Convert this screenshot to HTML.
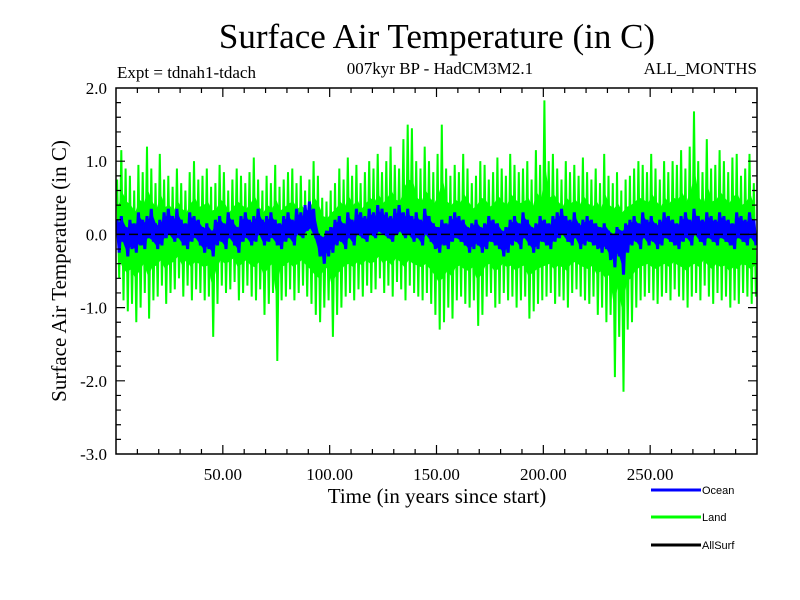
<!DOCTYPE html>
<html><head><meta charset="utf-8"><style>
body{margin:0;background:#fff}
svg{display:block}
text{font-family:"Liberation Serif",serif;fill:#000}
</style></head><body>
<svg id="c" width="800" height="600">
<text x="437" y="48" font-size="35" text-anchor="middle">Surface Air Temperature (in C)</text>
<text x="117" y="78" font-size="17">Expt = tdnah1-tdach</text>
<text x="440" y="74" font-size="17" text-anchor="middle">007kyr BP - HadCM3M2.1</text>
<text x="757" y="74" font-size="17" text-anchor="end">ALL_MONTHS</text>
<text x="437" y="503" font-size="21" text-anchor="middle">Time (in years since start)</text>
<text transform="translate(66,271) rotate(-90)" font-size="21" text-anchor="middle">Surface Air Temperature (in C)</text>
<g id="plot"></g>
<g>
<line x1="651" y1="490" x2="701" y2="490" stroke="#0000ff" stroke-width="3"/>
<text x="702" y="494" font-size="11" style="font-family:'Liberation Sans',sans-serif">Ocean</text>
<line x1="651" y1="517" x2="701" y2="517" stroke="#00ff00" stroke-width="3"/>
<text x="702" y="521" font-size="11" style="font-family:'Liberation Sans',sans-serif">Land</text>
<line x1="651" y1="545" x2="701" y2="545" stroke="#000" stroke-width="3"/>
<text x="702" y="549" font-size="11" style="font-family:'Liberation Sans',sans-serif">AllSurf</text>
</g>
</svg>
<script>
const xTicks=[50,100,150,200,250];
const xTickLabels=["50.00","100.00","150.00","200.00","250.00"];
const yTicks=[2,1,0,-1,-2,-3];
const yTickLabels=["2.0","1.0","0.0","-1.0","-2.0","-3.0"];
const binYears=2;
const landHi=[0.75,1.15,0.9,0.8,0.6,0.95,0.85,1.2,0.9,0.7,1.1,0.75,0.8,0.65,0.9,0.7,0.6,0.85,1.0,0.75,0.8,0.9,0.65,0.7,0.95,0.85,0.6,0.75,0.9,0.8,0.7,0.85,1.05,0.75,0.6,0.8,0.7,0.95,0.65,0.75,0.85,0.9,0.7,0.8,0.6,0.75,1.0,0.8,0.5,0.45,0.6,0.7,0.9,0.75,1.05,0.8,0.95,0.7,0.85,1.0,0.9,1.1,0.85,1.0,1.2,0.95,0.9,1.3,1.5,1.45,1.0,0.9,1.2,1.0,0.85,1.1,1.5,0.9,0.8,0.95,0.85,1.1,0.9,0.7,0.8,1.0,0.95,0.75,0.85,1.05,0.9,0.8,1.1,0.95,0.85,0.9,1.0,0.75,1.15,0.95,1.83,1.0,1.1,0.9,0.75,1.0,0.85,0.95,0.8,1.05,0.85,0.75,0.9,0.7,1.1,0.8,0.7,0.85,0.6,0.75,0.8,0.9,1.0,0.95,0.85,1.1,0.9,0.75,1.0,0.85,1.0,0.95,1.15,0.9,1.2,1.68,1.0,0.85,1.3,0.9,0.95,1.15,1.0,0.85,1.05,1.1,0.8,0.9,1.1,0.7];
const landLo=[-0.6,-0.9,-1.05,-0.95,-1.2,-1.0,-0.8,-1.15,-0.9,-0.85,-0.7,-0.95,-0.8,-0.75,-0.6,-0.85,-0.7,-0.9,-0.75,-0.8,-0.9,-0.85,-1.4,-0.95,-0.7,-0.8,-0.75,-0.65,-0.9,-0.8,-0.7,-0.85,-0.9,-0.75,-1.1,-0.95,-0.8,-1.73,-0.9,-0.85,-0.75,-0.9,-0.8,-0.7,-0.85,-0.95,-1.1,-1.2,-1.0,-0.9,-1.4,-1.1,-1.0,-0.85,-0.8,-0.9,-0.75,-0.85,-0.7,-0.8,-0.75,-0.6,-0.8,-0.7,-0.85,-0.65,-0.75,-0.9,-0.7,-0.8,-0.85,-0.9,-0.8,-0.95,-1.1,-1.3,-1.2,-1.0,-1.15,-0.9,-0.85,-0.95,-1.0,-0.9,-1.25,-1.1,-0.85,-0.8,-1.0,-0.95,-0.8,-0.9,-0.85,-1.0,-0.9,-0.85,-1.15,-1.05,-0.95,-0.9,-0.85,-0.8,-0.95,-0.85,-0.9,-1.0,-0.8,-0.75,-0.85,-0.9,-0.95,-0.85,-1.1,-1.0,-1.2,-1.1,-1.95,-1.4,-2.15,-1.3,-1.2,-1.0,-0.9,-0.85,-0.8,-0.9,-0.95,-0.85,-0.8,-0.9,-0.75,-0.85,-0.9,-1.0,-0.85,-0.8,-0.9,-0.7,-0.85,-0.95,-0.8,-0.9,-0.85,-1.0,-0.9,-0.95,-0.8,-0.85,-0.95,-0.85];
const oceanHi=[0.2,0.25,0.1,0.2,0.15,0.3,0.2,0.25,0.35,0.15,0.2,0.3,0.35,0.25,0.35,0.2,0.15,0.3,0.25,0.2,0.1,0.15,0.05,0.2,0.25,0.15,0.3,0.2,0.1,0.25,0.3,0.2,0.25,0.35,0.2,0.25,0.3,0.2,0.15,0.25,0.3,0.2,0.35,0.3,0.4,0.45,0.35,0.0,-0.05,0.05,0.1,0.2,0.25,0.15,0.3,0.2,0.35,0.3,0.25,0.35,0.3,0.4,0.35,0.3,0.25,0.35,0.4,0.3,0.35,0.25,0.3,0.2,0.35,0.25,0.15,0.1,0.2,0.15,0.25,0.3,0.25,0.2,0.1,0.15,0.2,0.1,0.15,0.25,0.2,0.15,0.05,0.1,0.2,0.25,0.15,0.3,0.2,0.1,0.15,0.25,0.2,0.15,0.25,0.3,0.35,0.25,0.2,0.3,0.15,0.2,0.25,0.2,0.15,0.1,0.15,0.05,0.0,0.1,0.05,0.15,0.2,0.25,0.15,0.3,0.2,0.25,0.15,0.2,0.3,0.25,0.2,0.15,0.25,0.3,0.2,0.35,0.25,0.2,0.3,0.25,0.2,0.3,0.25,0.2,0.15,0.3,0.25,0.2,0.3,0.2];
const oceanLo=[-0.25,-0.1,-0.3,-0.2,-0.25,-0.15,-0.2,-0.05,-0.1,-0.2,-0.15,-0.05,0.0,-0.1,-0.05,-0.15,-0.2,-0.1,-0.05,-0.15,-0.25,-0.2,-0.3,-0.15,-0.1,-0.2,-0.05,-0.15,-0.25,-0.1,-0.05,-0.15,-0.1,0.0,-0.15,-0.1,-0.05,-0.15,-0.2,-0.1,-0.05,-0.15,0.0,-0.05,0.05,0.1,-0.05,-0.3,-0.4,-0.3,-0.25,-0.15,-0.1,-0.2,-0.05,-0.15,0.0,-0.05,-0.1,0.0,-0.05,0.05,0.0,-0.05,-0.1,0.0,0.05,-0.05,0.0,-0.1,-0.05,-0.15,0.0,-0.1,-0.2,-0.25,-0.15,-0.2,-0.1,-0.05,-0.1,-0.15,-0.25,-0.2,-0.15,-0.25,-0.2,-0.1,-0.15,-0.2,-0.3,-0.25,-0.15,-0.1,-0.2,-0.05,-0.15,-0.25,-0.2,-0.1,-0.15,-0.2,-0.1,-0.05,0.0,-0.1,-0.15,-0.05,-0.2,-0.15,-0.1,-0.15,-0.2,-0.25,-0.2,-0.35,-0.45,-0.3,-0.55,-0.25,-0.15,-0.1,-0.2,-0.05,-0.15,-0.1,-0.2,-0.15,-0.05,-0.1,-0.15,-0.2,-0.1,-0.05,-0.15,0.0,-0.1,-0.15,-0.05,-0.1,-0.15,-0.05,-0.1,-0.15,-0.2,-0.05,-0.1,-0.15,-0.05,-0.15];

const X0=116,X1=757,Y0=88,Y1=454,XMIN=0,XMAX=300,YMIN=-3,YMAX=2;
function xs(v){return X0+(v-XMIN)/(XMAX-XMIN)*(X1-X0);}
function ys(v){return Y1-(v-YMIN)/(YMAX-YMIN)*(Y1-Y0);}
const NS="http://www.w3.org/2000/svg";
const plot=document.getElementById('plot');
function mk(tag,attrs){const e=document.createElementNS(NS,tag);for(const k in attrs)e.setAttribute(k,attrs[k]);return e;}
function zig(hi,lo){let p=[];for(let i=0;i<hi.length;i++){p.push(xs(i*binYears+0.5).toFixed(1)+','+ys(hi[i]).toFixed(1));p.push(xs(i*binYears+1.5).toFixed(1)+','+ys(lo[i]).toFixed(1));}return p.join(' ');}
function band(hi,lo,f){let a=[],b=[];for(let i=0;i<hi.length;i++){const x=xs(i*binYears+1).toFixed(1);a.push(x+','+ys(hi[i]*f).toFixed(1));b.unshift(x+','+ys(lo[i]*f).toFixed(1));}return a.concat(b).join(' ');}
const landBand=mk('polygon',{points:band(landHi,landLo,0.5),fill:'#00ff00'});


plot.appendChild(landBand);
const land=mk('polyline',{points:zig(landHi,landLo),fill:'none',stroke:'#00ff00','stroke-width':2,'stroke-linejoin':'miter','stroke-miterlimit':1});


plot.appendChild(land);
const oceanBand=mk('polygon',{points:band(oceanHi,oceanLo,0.8),fill:'#0000ff'});


plot.appendChild(oceanBand);
const ocean=mk('polyline',{points:zig(oceanHi,oceanLo),fill:'none',stroke:'#0000ff','stroke-width':3,'stroke-linejoin':'miter','stroke-miterlimit':1});


plot.appendChild(ocean);
const zero=mk('line',{x1:X0,x2:X1,y1:ys(0),y2:ys(0),stroke:'#000','stroke-width':1.5,'stroke-dasharray':'9,4'});


plot.appendChild(zero);
const frame=mk('rect',{x:X0,y:Y0,width:X1-X0,height:Y1-Y0,fill:'none',stroke:'#000','stroke-width':1.5});


plot.appendChild(frame);
let tk='';
for(let v=10;v<XMAX;v+=10){const x=xs(v),L=(v%50===0)?9:5;tk+=`M${x},${Y1}v${-L}M${x},${Y0}v${L}`;}
for(let k=-14;k<10;k++){const v=k/5;if(v<=YMIN||v>=YMAX)continue;const y=ys(v),L=(k%5===0)?9:5;tk+=`M${X0},${y}h${L}M${X1},${y}h${-L}`;}
const ticks=mk('path',{d:tk,stroke:'#000','stroke-width':1.2,fill:'none'});


plot.appendChild(ticks);
xTicks.forEach((v,i)=>{const t=mk('text',{x:xs(v),y:480,'font-size':17,'text-anchor':'middle'});t.textContent=xTickLabels[i];


plot.appendChild(t);});
yTicks.forEach((v,i)=>{const t=mk('text',{x:107,y:ys(v)+6,'font-size':17,'text-anchor':'end'});t.textContent=yTickLabels[i];


plot.appendChild(t);});
</script>
</body></html>
